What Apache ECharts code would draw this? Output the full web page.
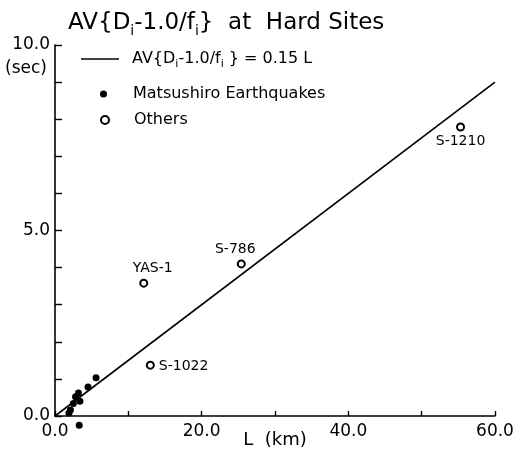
<!DOCTYPE html>
<html><head><meta charset="utf-8">
<script src="https://cdn.jsdelivr.net/npm/echarts@6/dist/echarts.min.js"></script>
<style>html,body{margin:0;padding:0;background:#fff}#c{width:517px;height:454px}</style>
</head><body><div id="c"></div>
<script>
// Data
var fitLineL = [0, 60];
var fitLineAV = [0, 9.0];
var matsuL  = [5.6, 4.5, 3.2, 2.8, 3.4, 2.5, 2.1, 1.9, 3.3];
var matsuAV = [1.03, 0.78, 0.62, 0.52, 0.40, 0.34, 0.16, 0.08, -0.25];
var othersNames = ['S-1210', 'S-786', 'YAS-1', 'S-1022'];
var othersL  = [55.3, 25.4, 12.1, 13.0];
var othersAV = [7.79, 4.10, 3.58, 1.37];
var xTickLabels = [0, 20, 40, 60];
var yTickLabels = [0, 5, 10];

var FONT = 'DejaVu Sans';
var labelStyle = {
  'S-1210': {position: 'bottom', distance: 3, offset: [0, 0]},
  'S-786':  {position: 'top', distance: 3, offset: [-6, 0]},
  'YAS-1':  {position: 'top', distance: 3, offset: [9, 0]},
  'S-1022': {position: 'right', distance: 4, offset: [0, 1]}
};
var subRich = {
  sub: {fontSize: 11, lineHeight: 11, verticalAlign: 'bottom', fontFamily: FONT, color: '#000'}
};

var chart = echarts.init(document.getElementById('c'));
var option = {
  animation: false,
  backgroundColor: '#fff',
  textStyle: {fontFamily: FONT, color: '#000'},
  title: {
    text: 'AV{D{sub|i}-1.0/f{sub|i}}  at  Hard Sites',
    left: 63, top: 3,
    textStyle: {fontSize: 23, fontWeight: 'normal', color: '#000', fontFamily: FONT, lineHeight: 30,
      rich: {sub: {fontSize: 14, lineHeight: 14, verticalAlign: 'bottom', fontFamily: FONT, color: '#000'}}}
  },
  grid: {left: 55, right: 22, top: 45, bottom: 38, containLabel: false, outerBoundsMode: 'none'},
  legend: [
    {data: [{name: 'fit', icon: 'rect'}], left: 76, top: 43, itemWidth: 38, itemHeight: 1.6, orient: 'vertical',
     formatter: function(){ return 'AV{D{sub|i}-1.0/f{sub|i} } = 0.15 L'; },
     itemStyle: {color: '#000'},
     textStyle: {fontSize: 16, color: '#000', fontFamily: FONT, padding: [0, 0, 0, 8], lineHeight: 22, rich: subRich}},
    {data: ['Matsushiro Earthquakes'], left: 95, top: 81, itemWidth: 7, itemHeight: 7,
     textStyle: {fontSize: 16, color: '#000', fontFamily: FONT, padding: [0, 0, 0, 21]}},
    {data: ['Others'], left: 95, top: 107, itemWidth: 8, itemHeight: 8,
     textStyle: {fontSize: 16, color: '#000', fontFamily: FONT, padding: [0, 0, 0, 20]}}
  ],
  xAxis: {
    type: 'value', min: 0, max: 60, interval: 10,
    name: 'L  (km)', nameLocation: 'middle', nameGap: 15, nameMoveOverlap: false,
    nameTextStyle: {fontSize: 18, color: '#000', fontFamily: FONT},
    axisLine: {lineStyle: {color: '#000', width: 1.6}},
    axisTick: {inside: true, length: 5, lineStyle: {color: '#000', width: 1.4}},
    axisLabel: {fontSize: 17, color: '#000', margin: 7, fontFamily: FONT,
      formatter: function(v){ return xTickLabels.indexOf(v) >= 0 ? v.toFixed(1) : ''; }},
    splitLine: {show: false}
  },
  yAxis: {
    type: 'value', min: 0, max: 10, interval: 1,
    axisLine: {show: true, lineStyle: {color: '#000', width: 1.6}},
    axisTick: {show: true, inside: true, length: 7, lineStyle: {color: '#000', width: 1.4}},
    axisLabel: {fontSize: 17, color: '#000', margin: 5, fontFamily: FONT,
      formatter: function(v){ return yTickLabels.indexOf(v) >= 0 ? v.toFixed(1) : ''; }},
    splitLine: {show: false}
  },
  graphic: [
    {type: 'text', left: 5, top: 60, style: {text: '(sec)', fontSize: 17, fontFamily: FONT, fill: '#000'}}
  ],
  series: [
    {name: 'fit', type: 'line', symbol: 'none', clip: false,
     data: fitLineL.map(function(x, i){ return [x, fitLineAV[i]]; }),
     lineStyle: {color: '#000', width: 1.6}, itemStyle: {color: '#000'}},
    {name: 'Matsushiro Earthquakes', type: 'scatter', symbol: 'circle', symbolSize: 7, clip: false,
     data: matsuL.map(function(x, i){ return [x, matsuAV[i]]; }),
     itemStyle: {color: '#000', opacity: 1}},
    {name: 'Others', type: 'scatter', symbol: 'emptyCircle', symbolSize: 7, clip: false,
     data: othersL.map(function(x, i){
       var ls = labelStyle[othersNames[i]];
       return {name: othersNames[i], value: [x, othersAV[i]],
         label: {show: true, position: ls.position, distance: ls.distance, offset: ls.offset,
           formatter: '{b}', fontSize: 14, color: '#000', fontFamily: FONT}};
     }),
     itemStyle: {color: '#000', borderColor: '#000', borderWidth: 1.6, opacity: 1}}
  ]
};
chart.setOption(option);
</script>
</body></html>
